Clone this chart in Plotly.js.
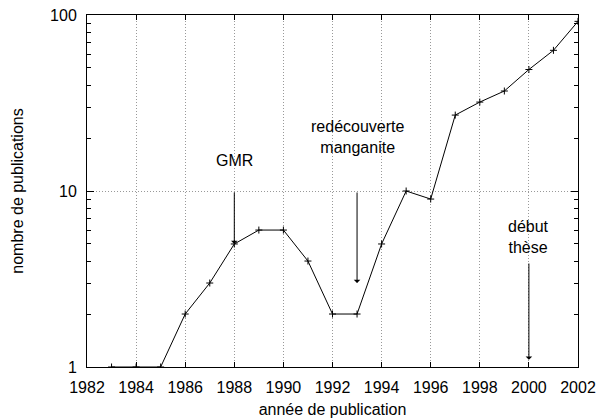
<!DOCTYPE html>
<html><head><meta charset="utf-8">
<script src="https://cdn.plot.ly/plotly-3.0.1.min.js"></script>
<style>body{margin:0;background:#fff}#c{width:599px;height:419px}</style>
</head><body><div id="c"></div>
<script>
const years = [1983,1984,1985,1986,1987,1988,1989,1990,1991,1992,1993,1994,1995,1996,1997,1998,1999,2000,2001,2002];
const counts = [1,1,1,2,3,5,6,6,4,2,2,5,10,9,27,32,37,49,63,92];
const xTicks = [1982,1984,1986,1988,1990,1992,1994,1996,1998,2000,2002];
const yTicks = [1,10,100];
const yMinor = [2,3,4,5,6,7,8,9,20,30,40,50,60,70,80,90];
const labels = ["GMR","redécouverte<br>manganite","début<br>thèse"];
const labelX = [1988,1993,2000];
const labelY = [15,20.4,5.45];
const arrowX = [1988,1993,2000];
const arrowFrom = [10,10,3.95];
const arrowTo = [5,3,1.1];

const font = {family:"Liberation Sans, Arial, Helvetica, sans-serif", size:16, color:"#000"};
const annotations = [];
for (let i=0;i<arrowX.length;i++){
  annotations.push({x:arrowX[i], y:Math.log10(arrowTo[i]), ax:arrowX[i], ay:Math.log10(arrowFrom[i]),
    xref:'x', yref:'y', axref:'x', ayref:'y', text:'', showarrow:true,
    arrowhead:1, arrowsize:1.1, arrowwidth:1, arrowcolor:'#000'});
}
for (let i=0;i<labels.length;i++){
  annotations.push({x:labelX[i], y:Math.log10(labelY[i]), xref:'x', yref:'y', text:labels[i],
    showarrow:false, font:font, align:'center'});
}
const data = [{x:years, y:counts, type:'scatter', mode:'lines+markers',
  line:{color:'#000', width:1}, marker:{symbol:'cross-thin-open', size:5, line:{color:'#000', width:1}, color:'#000'},
  hoverinfo:'skip'}];
const layout = {
  width:599, height:419, margin:{l:87, r:21, t:15, b:52},
  paper_bgcolor:'#fff', plot_bgcolor:'#fff', showlegend:false, font:font,
  xaxis:{range:[1982,2002], tickvals:xTicks, ticks:'inside', ticklen:5, tickcolor:'#000',
    showline:true, linecolor:'#000', linewidth:1, mirror:'ticks', zeroline:false,
    showgrid:true, gridcolor:'#999', griddash:'1px,2px', gridwidth:1, ticklabelstandoff:6,
    title:{text:'année de publication', font:font, standoff:8}, tickfont:font},
  yaxis:{type:'log', range:[0,2], tickvals:yTicks, ticktext:['1','10','100'], ticks:'inside', ticklen:7, tickcolor:'#000',
    showline:true, linecolor:'#000', linewidth:1, mirror:'ticks', zeroline:false,
    showgrid:true, gridcolor:'#999', griddash:'1px,2px', gridwidth:1, ticklabelstandoff:6,
    minor:{tickvals:yMinor, ticks:'inside', ticklen:4, tickcolor:'#000', showgrid:false},
    title:{text:'nombre de publications', font:font, standoff:22}, tickfont:font},
  annotations:annotations
};
Plotly.newPlot('c', data, layout, {staticPlot:true});
</script></body></html>
